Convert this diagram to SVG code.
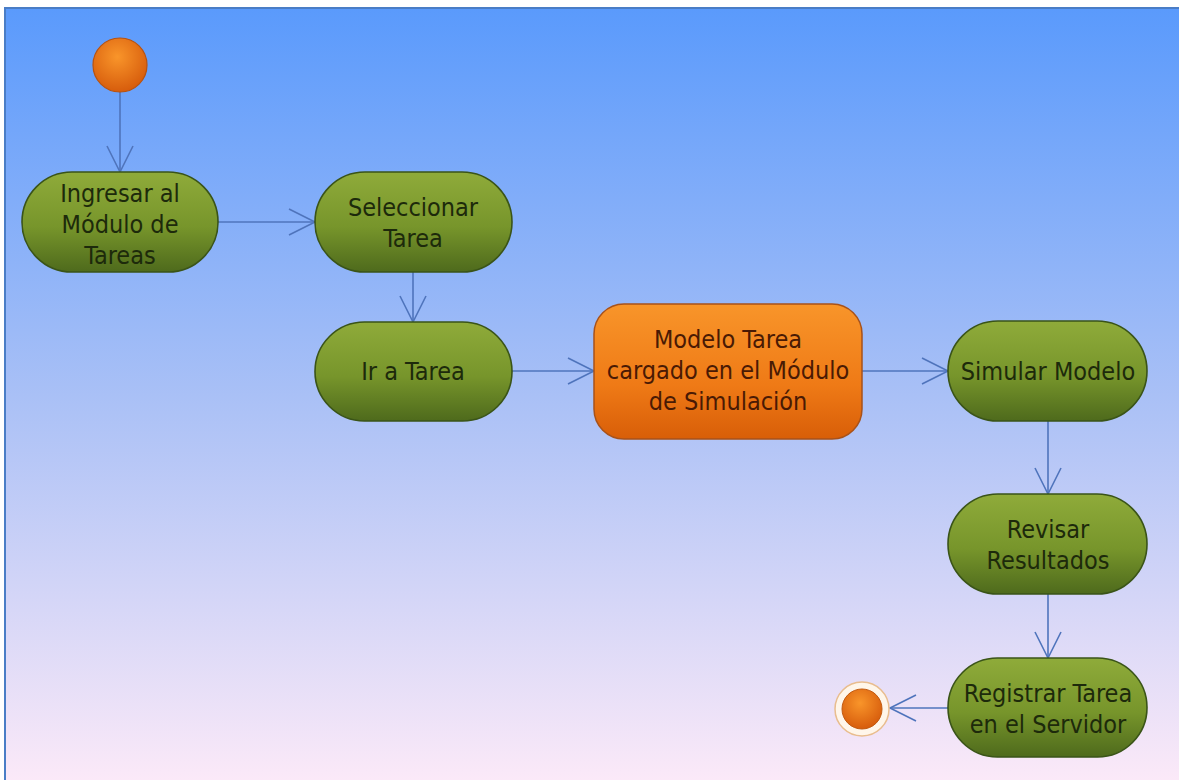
<svg xmlns="http://www.w3.org/2000/svg" width="1179" height="780" viewBox="0 0 1179 780">
  <defs>
    <linearGradient id="bg" x1="0" y1="0" x2="0" y2="1">
      <stop offset="0" stop-color="#5a9afc"/>
      <stop offset="0.5" stop-color="#a9c0f6"/>
      <stop offset="1" stop-color="#fbe9f8"/>
    </linearGradient>
    <linearGradient id="green" x1="0" y1="0" x2="0" y2="1">
      <stop offset="0" stop-color="#8fab3a"/>
      <stop offset="0.55" stop-color="#77952b"/>
      <stop offset="1" stop-color="#4e6a1c"/>
    </linearGradient>
    <linearGradient id="orange" x1="0" y1="0" x2="0" y2="1">
      <stop offset="0" stop-color="#f8952a"/>
      <stop offset="0.6" stop-color="#ef7a16"/>
      <stop offset="1" stop-color="#d85e08"/>
    </linearGradient>
    <radialGradient id="ball" cx="0.45" cy="0.35" r="0.7">
      <stop offset="0" stop-color="#f9952a"/>
      <stop offset="1" stop-color="#d4580a"/>
    </radialGradient>
    <marker id="open" markerUnits="userSpaceOnUse" markerWidth="32" markerHeight="32" viewBox="-29 -16 32 32" refX="0" refY="0" orient="auto">
      <path d="M -26 -13 L 0 0 L -26 13" fill="none" stroke="#4f74bc" stroke-width="1.6"/>
    </marker>
  </defs>
  <style>
    .pill { fill: url(#green); stroke: #3a5418; stroke-width: 1.6; }
    .box { fill: url(#orange); stroke: #a8521a; stroke-width: 1.5; }
    .lbl { font-family: "DejaVu Sans Condensed", "DejaVu Sans", sans-serif; font-size: 25px; text-anchor: middle; fill: #1d2a0b; }
    .lbl-o { fill: #4a1a04; }
    .edge { fill: none; stroke: #4f74bc; stroke-width: 1.6; marker-end: url(#open); }
  </style>

  <!-- canvas -->
  <rect x="0" y="0" width="1179" height="780" fill="#ffffff"/>
  <rect x="5" y="8" width="1174" height="772" fill="url(#bg)"/>
  <path d="M 5 780 L 5 8 L 1179 8" fill="none" stroke="#4a7dc6" stroke-width="2"/>

  <!-- connectors -->
  <g id="connectors">
    <line class="edge" x1="120" y1="92" x2="120" y2="172"/>
    <line class="edge" x1="218" y1="222" x2="315" y2="222"/>
    <line class="edge" x1="413" y1="272" x2="413" y2="322"/>
    <line class="edge" x1="512" y1="371" x2="594" y2="371"/>
    <line class="edge" x1="862" y1="371" x2="948" y2="371"/>
    <line class="edge" x1="1048" y1="421" x2="1048" y2="494"/>
    <line class="edge" x1="1048" y1="594" x2="1048" y2="658"/>
    <line class="edge" x1="948" y1="708" x2="890" y2="708"/>
  </g>

  <!-- initial node -->
  <g id="start">
    <circle cx="120" cy="65" r="27" fill="url(#ball)" stroke="#b9520e" stroke-width="1.2"/>
  </g>

  <g id="ingresar">
    <rect class="pill" x="22" y="172" width="196" height="100" rx="50" ry="50"/>
    <text class="lbl" x="120" y="202">Ingresar al</text>
    <text class="lbl" x="120" y="233">Módulo de</text>
    <text class="lbl" x="120" y="264">Tareas</text>
  </g>

  <g id="seleccionar">
    <rect class="pill" x="315" y="172" width="197" height="100" rx="50" ry="50"/>
    <text class="lbl" x="413" y="216">Seleccionar</text>
    <text class="lbl" x="413" y="247">Tarea</text>
  </g>

  <g id="ir-tarea">
    <rect class="pill" x="315" y="322" width="197" height="99" rx="49.5" ry="49.5"/>
    <text class="lbl" x="413" y="380">Ir a Tarea</text>
  </g>

  <g id="modelo-cargado">
    <rect class="box" x="594" y="304" width="268" height="135" rx="30" ry="30"/>
    <text class="lbl lbl-o" x="728" y="348">Modelo Tarea</text>
    <text class="lbl lbl-o" x="728" y="379">cargado en el Módulo</text>
    <text class="lbl lbl-o" x="728" y="410">de Simulación</text>
  </g>

  <g id="simular">
    <rect class="pill" x="948" y="321" width="199" height="100" rx="50" ry="50"/>
    <text class="lbl" x="1048" y="380">Simular Modelo</text>
  </g>

  <g id="revisar">
    <rect class="pill" x="948" y="494" width="199" height="100" rx="50" ry="50"/>
    <text class="lbl" x="1048" y="538">Revisar</text>
    <text class="lbl" x="1048" y="569">Resultados</text>
  </g>

  <g id="registrar">
    <rect class="pill" x="948" y="658" width="199" height="99" rx="49.5" ry="49.5"/>
    <text class="lbl" x="1048" y="702">Registrar Tarea</text>
    <text class="lbl" x="1048" y="733">en el Servidor</text>
  </g>

  <!-- final node -->
  <g id="end">
    <circle cx="862" cy="709" r="27" fill="#fff6ea" stroke="#e9bd8e" stroke-width="1.5"/>
    <circle cx="862" cy="709" r="20" fill="url(#ball)" stroke="#c25a10" stroke-width="1"/>
  </g>
</svg>
